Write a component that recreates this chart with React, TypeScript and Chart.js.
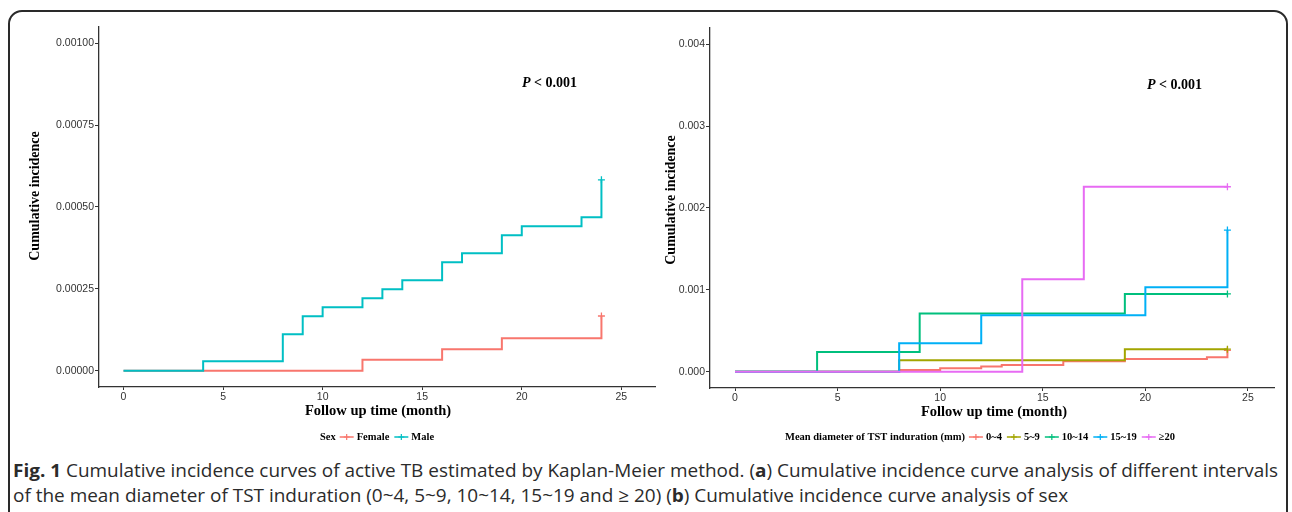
import React, { useEffect, useLayoutEffect, useRef } from 'react';
import { Chart, registerables } from 'chart.js';

Chart.register(...registerables);

// ---------- data ----------
const monthTicks = [0, 5, 10, 15, 20, 25];
const sexYTicks = [0, 0.00025, 0.0005, 0.00075, 0.001];
const tstYTicks = [0, 0.001, 0.002, 0.003, 0.004];

const sexLabels = ['Female', 'Male'];
const femaleMonths = [0, 12, 16, 19, 24];
const femaleInc = [0, 0.0000336, 0.0000651, 0.0000988, 0.000167];
const maleMonths = [0, 4, 8, 9, 10, 12, 13, 14, 16, 17, 19, 20, 23, 24];
const maleInc = [0, 0.0000284, 0.000111, 0.000166, 0.000194, 0.000221, 0.000249, 0.000276, 0.000331, 0.000359, 0.000414, 0.000441, 0.000469, 0.000583];

const tstLabels = ['0~4', '5~9', '10~14', '15~19', '≥20'];
const tst04Months = [0, 8, 10, 12, 13, 16, 19, 23, 24];
const tst04Inc = [0, 0.000021, 0.00004, 0.000062, 0.000082, 0.000128, 0.000155, 0.000176, 0.00026];
const tst59Months = [0, 8, 19, 24];
const tst59Inc = [0, 0.000138, 0.000274, 0.000274];
const tst1014Months = [0, 4, 9, 19, 24];
const tst1014Inc = [0, 0.00024, 0.00071, 0.00095, 0.00095];
const tst1519Months = [0, 8, 12, 20, 24];
const tst1519Inc = [0, 0.000346, 0.00069, 0.00103, 0.00173];
const tst20Months = [0, 14, 17, 24];
const tst20Inc = [0, 0.00113, 0.00226, 0.00226];

const sexColors = ['#F8766D', '#00BFC4'];
const tstColors = ['#F8766D', '#A3A500', '#00BF7D', '#00B0F6', '#E76BF3'];

const SERIF = '"Liberation Serif", "Times New Roman", serif';
const SANS = '"Liberation Sans", Arial, sans-serif';

// ---------- annotation plugin ----------
function drawCross(ctx: CanvasRenderingContext2D, x: number, y: number, r: number) {
  ctx.beginPath();
  ctx.moveTo(x - r, y);
  ctx.lineTo(x + r, y);
  ctx.moveTo(x, y - r);
  ctx.lineTo(x, y + r);
  ctx.stroke();
}

const annotPlugin = {
  id: 'annot',
  afterDraw(chart: any, _args: any, opts: any) {
    const ctx: CanvasRenderingContext2D = chart.ctx;
    ctx.save();
    ctx.fillStyle = '#000';
    ctx.textBaseline = 'middle';

    // y title
    ctx.save();
    ctx.font = `bold 14px ${SERIF}`;
    ctx.textAlign = 'center';
    ctx.translate(opts.yTitle[0], opts.yTitle[1]);
    ctx.rotate(-Math.PI / 2);
    ctx.fillText('Cumulative incidence', 0, 0);
    ctx.restore();

    // x title
    ctx.font = `bold 14.5px ${SERIF}`;
    ctx.textAlign = 'center';
    ctx.fillText('Follow up time (month)', opts.xTitle[0], opts.xTitle[1]);

    // P value
    ctx.textAlign = 'left';
    ctx.font = `italic bold 14px ${SERIF}`;
    const px = opts.pText[0];
    ctx.fillText('P', px, opts.pText[1]);
    const pw = ctx.measureText('P').width;
    ctx.font = `bold 14px ${SERIF}`;
    ctx.fillText(' < 0.001', px + pw, opts.pText[1]);

    // legend
    const lg = opts.legend;
    ctx.font = `bold 10.5px ${SERIF}`;
    const keyW = 14;
    const gapKey = 3;
    const gapItem = 5;
    const titleW = ctx.measureText(lg.title).width;
    const widths = lg.labels.map((l: string) => ctx.measureText(l).width);
    let total = titleW + 4;
    widths.forEach((w: number) => { total += keyW + gapKey + w + gapItem; });
    total -= gapItem;
    let x = lg.cx - total / 2;
    const y = lg.cy;
    ctx.fillText(lg.title, x, y);
    x += titleW + 4;
    lg.labels.forEach((l: string, i: number) => {
      ctx.strokeStyle = lg.colors[i];
      ctx.lineWidth = 1.5;
      ctx.beginPath();
      ctx.moveTo(x, y);
      ctx.lineTo(x + keyW, y);
      ctx.stroke();
      ctx.lineWidth = 1.2;
      drawCross(ctx, x + keyW / 2, y, 3);
      x += keyW + gapKey;
      ctx.fillStyle = '#000';
      ctx.fillText(l, x, y);
      x += widths[i] + gapItem;
    });
    ctx.restore();
  },
};

// ---------- chart config ----------
type Series = { label: string; months: number[]; values: number[]; color: string };

function makeConfig(p: {
  series: Series[];
  yTicks: number[];
  decimals: number;
  xMin: number; xMax: number; yMin: number; yMax: number;
  yAxisW: number; xAxisH: number; padTop: number; padRight: number;
  annot: any;
}): any {
  const axisColor = '#333';
  const tickFont = { family: SANS, size: 10.5 };
  return {
    type: 'line',
    data: {
      datasets: p.series.map((s, i) => ({
        label: s.label,
        data: s.months.map((m, j) => ({ x: m, y: s.values[j] })),
        borderColor: s.color,
        backgroundColor: s.color,
        borderWidth: 2,
        stepped: true,
        fill: false,
        tension: 0,
        pointRadius: s.months.map((_, j) => (j === s.months.length - 1 ? 3.5 : 0)),
        pointHoverRadius: 0,
        pointStyle: 'cross',
        pointBorderColor: s.color,
        pointBorderWidth: 1.3,
        order: p.series.length - i,
      })),
    },
    options: {
      responsive: false,
      animation: false,
      events: [],
      layout: { padding: { left: 0, top: p.padTop, right: p.padRight, bottom: 0 } },
      plugins: { legend: { display: false }, tooltip: { enabled: false }, annot: p.annot },
      scales: {
        x: {
          type: 'linear',
          min: p.xMin,
          max: p.xMax,
          afterBuildTicks: (s: any) => { s.ticks = monthTicks.map((v) => ({ value: v })); },
          afterFit: (s: any) => { s.height = p.xAxisH; },
          ticks: { font: tickFont, color: '#333', padding: 1, maxRotation: 0, callback: (v: any) => String(v) },
          grid: { display: true, drawOnChartArea: false, drawTicks: true, tickLength: 3, tickColor: axisColor, tickWidth: 1 },
          border: { display: true, color: axisColor, width: 1.3 },
          title: { display: false },
        },
        y: {
          type: 'linear',
          min: p.yMin,
          max: p.yMax,
          afterBuildTicks: (s: any) => { s.ticks = p.yTicks.map((v) => ({ value: v })); },
          afterFit: (s: any) => { s.width = p.yAxisW; },
          ticks: { font: tickFont, color: '#333', padding: 1, callback: (v: any) => Number(v).toFixed(p.decimals) },
          grid: { display: true, drawOnChartArea: false, drawTicks: true, tickLength: 4, tickColor: axisColor, tickWidth: 1 },
          border: { display: true, color: axisColor, width: 1.3 },
          title: { display: false },
        },
      },
    },
    plugins: [annotPlugin],
  };
}

function ChartCanvas({ config, left, width, height }: { config: any; left: number; width: number; height: number }) {
  const ref = useRef<HTMLCanvasElement>(null);
  useEffect(() => {
    if (!ref.current) return;
    const chart = new Chart(ref.current, config);
    return () => chart.destroy();
  }, []);
  return (
    <canvas
      ref={ref}
      width={width}
      height={height}
      style={{ position: 'absolute', left, top: 0, width, height }}
    />
  );
}

function Caption() {
  const r1 = useRef<HTMLDivElement>(null);
  const r2 = useRef<HTMLDivElement>(null);
  useLayoutEffect(() => {
    if (!r1.current || !r2.current) return;
    const w = r1.current.getBoundingClientRect().width;
    const s = 1265 / w;
    r1.current.style.transform = `scaleX(${s})`;
    r2.current.style.transform = `scaleX(${s})`;
  }, []);
  const base: React.CSSProperties = {
    position: 'absolute',
    left: 13,
    whiteSpace: 'nowrap',
    fontFamily: '"Open Sans", "Noto Sans", sans-serif',
    fontSize: 18.5,
    lineHeight: '24px',
    color: '#2b2b2b',
    transformOrigin: 'left center',
    display: 'inline-block',
  };
  return (
    <>
      <div ref={r1} style={{ ...base, top: 458 }}>
        <b>Fig. 1</b> Cumulative incidence curves of active TB estimated by Kaplan-Meier method. (<b>a</b>) Cumulative incidence curve analysis of different intervals
      </div>
      <div ref={r2} style={{ ...base, top: 483 }}>
        of the mean diameter of TST induration (0~4, 5~9, 10~14, 15~19 and ≥ 20) (<b>b</b>) Cumulative incidence curve analysis of sex
      </div>
    </>
  );
}

export default function App() {
  const sexSeries: Series[] = [
    { label: sexLabels[0], months: femaleMonths, values: femaleInc, color: sexColors[0] },
    { label: sexLabels[1], months: maleMonths, values: maleInc, color: sexColors[1] },
  ];
  const tstSeries: Series[] = [
    { label: tstLabels[0], months: tst04Months, values: tst04Inc, color: tstColors[0] },
    { label: tstLabels[1], months: tst59Months, values: tst59Inc, color: tstColors[1] },
    { label: tstLabels[2], months: tst1014Months, values: tst1014Inc, color: tstColors[2] },
    { label: tstLabels[3], months: tst1519Months, values: tst1519Inc, color: tstColors[3] },
    { label: tstLabels[4], months: tst20Months, values: tst20Inc, color: tstColors[4] },
  ];

  const leftConfig = makeConfig({
    series: sexSeries,
    yTicks: sexYTicks,
    decimals: 5,
    xMin: -1.23, xMax: 26.7,
    yMin: -0.00005, yMax: 0.00105,
    yAxisW: 99, xAxisH: 63, padTop: 27, padRight: 1,
    annot: {
      yTitle: [35, 196],
      xTitle: [378, 411],
      pText: [522, 83],
      legend: { cx: 377, cy: 437, title: 'Sex', labels: sexLabels, colors: sexColors },
    },
  });

  const rightConfig = makeConfig({
    series: tstSeries,
    yTicks: tstYTicks,
    decimals: 3,
    xMin: -1.22, xMax: 26.27,
    yMin: -0.0002, yMax: 0.0042,
    yAxisW: 70, xAxisH: 62, padTop: 28, padRight: 18,
    annot: {
      yTitle: [31, 200],
      xTitle: [354, 412],
      pText: [507, 85],
      legend: { cx: 340, cy: 437, title: 'Mean diameter of TST induration (mm)', labels: tstLabels, colors: tstColors },
    },
  });

  return (
    <div style={{ position: 'absolute', left: 0, top: 0, width: 1292, height: 512, overflow: 'hidden', background: '#fff' }}>
      <div
        style={{
          position: 'absolute', left: 8, top: 10, width: 1280, height: 620,
          border: '2px solid #2a2a2a', borderRadius: 14, boxSizing: 'border-box',
        }}
      />
      <ChartCanvas config={leftConfig} left={0} width={660} height={450} />
      <ChartCanvas config={rightConfig} left={640} width={652} height={450} />
      <Caption />
    </div>
  );
}
